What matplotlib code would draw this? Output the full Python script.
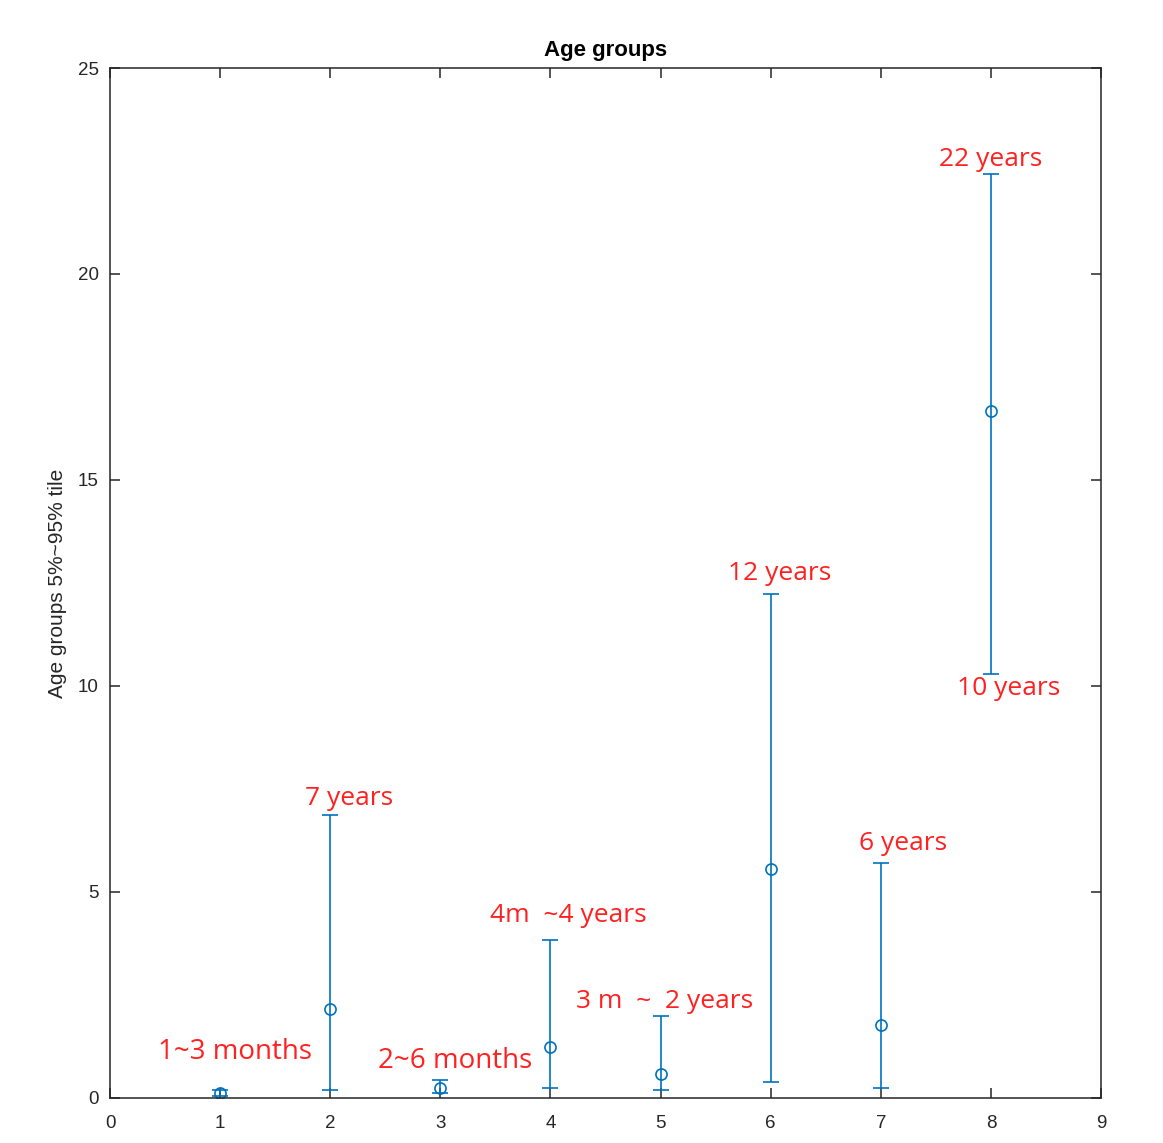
import numpy as np
import matplotlib
matplotlib.use("Agg")
import matplotlib.pyplot as plt

# age group index, median and 5%/95% percentiles (years)
groups = [1, 2, 3, 4, 5, 6, 7, 8]
centers = [0.12, 2.16, 0.24, 1.24, 0.58, 5.56, 1.77, 16.68]
lower = [0.05, 0.20, 0.12, 0.24, 0.19, 0.39, 0.24, 10.30]
upper = [0.20, 6.87, 0.44, 3.83, 1.99, 12.23, 5.70, 22.42]

# annotation texts and where they sit (data coords)
labels = ["1~3 months", "7 years", "2~6 months", "4m  ~4 years",
          "3 m  ~  2 years", "12 years", "6 years", "22 years", "10 years"]
label_x = [1.135, 2.17, 3.13, 4.16, 5.04, 6.08, 7.20, 8.0, 8.16]
label_y = [1.12, 7.28, 0.90, 4.42, 2.35, 12.74, 6.17, 22.77, 9.93]

blue = "#0072BD"

fig = plt.figure(figsize=(11.63, 11.43), dpi=100)
ax = fig.add_axes([0.0946, 0.0394, 0.8521, 0.9011])

c = np.array(centers)
yerr = [c - np.array(lower), np.array(upper) - c]
ax.errorbar(groups, centers, yerr=yerr, fmt="o", color=blue, mfc="none",
            mec=blue, ms=8, mew=1.2, elinewidth=1.2, capsize=5.5, capthick=1.2)

for t, x, y in zip(labels, label_x, label_y):
    fs = 20 if "months" in t else 19
    ax.text(x, y, t, color="#FF2020", fontsize=fs, family="Open Sans",
            ha="center", va="center")

ax.set_xlim(0, 9)
ax.set_ylim(0, 25)
ax.set_xticks(range(0, 10))
ax.set_yticks(range(0, 26, 5))
ax.tick_params(direction="in", top=True, right=True, length=7, width=1.1,
               labelsize=13.5, colors="#262626")
ax.tick_params(axis="x", pad=12)
ax.tick_params(axis="y", pad=8)
for lab in ax.get_xticklabels() + ax.get_yticklabels():
    lab.set_family("Liberation Sans")
for s in ax.spines.values():
    s.set_linewidth(1.1)
    s.set_color("#262626")

ax.set_title("Age groups", fontsize=16, fontweight="bold", family="Liberation Sans", pad=9)
ax.set_ylabel("Age groups 5%~95% tile", fontsize=15, family="Liberation Sans",
              color="#262626", labelpad=8)

fig.savefig("out.png", dpi=100)
